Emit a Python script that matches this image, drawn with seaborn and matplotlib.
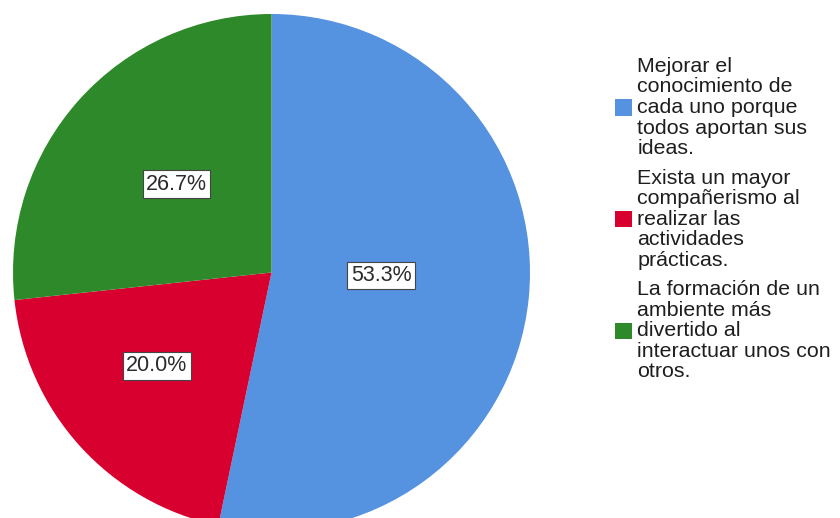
import numpy as np
import matplotlib
matplotlib.use("Agg")
import matplotlib.pyplot as plt
import seaborn as sns

# Response categories and their shares (%)
categories = [
    "Mejorar el\nconocimiento de\ncada uno porque\ntodos aportan sus\nideas.",
    "Exista un mayor\ncompañerismo al\nrealizar las\nactividades\nprácticas.",
    "La formación de un\nambiente más\ndivertido al\ninteractuar unos con\notros.",
]
percentages = [53.3, 20.0, 26.7]
colors = ["#5592E0", "#D8002F", "#2E892A"]

# label placement: fraction of radius, and angle nudge (deg) from the wedge bisector
label_radius = [0.424, 0.571, 0.502]
label_nudge = [-4.4, 3.0, 1.0]

sns.set_theme(style="white")
plt.rcParams["font.family"] = ["Liberation Sans", "DejaVu Sans"]

W, H = 840, 518
fig = plt.figure(figsize=(W / 100, H / 100), dpi=100)
fig.patch.set_facecolor("white")

# pie centre (271.5, 272.5) px, radius 258.5 px
cx, cy, r = 271.5, 272.5, 258.5
ax = fig.add_axes([(cx - r) / W, (H - cy - r) / H, 2 * r / W, 2 * r / H])
ax.axis("off")

wedges, _ = ax.pie(
    percentages,
    colors=colors,
    startangle=90,
    counterclock=False,
    radius=1,
    center=(0, 0),
    wedgeprops=dict(linewidth=0),
    frame=False,
)
ax.set_xlim(-1, 1)
ax.set_ylim(-1, 1)

# percentage labels, angles measured clockwise from 12 o'clock
cum = np.cumsum([0] + percentages)
for i, p in enumerate(percentages):
    mid = np.deg2rad((cum[i] + cum[i + 1]) / 2 / 100 * 360 + label_nudge[i])
    x = label_radius[i] * np.sin(mid)
    y = label_radius[i] * np.cos(mid)
    ax.text(x, y, f"{p:.1f}%", ha="center", va="center", fontsize=15.5,
            color="#2b2b2b",
            bbox=dict(boxstyle="square,pad=0.16", facecolor="white",
                      edgecolor="#444444", linewidth=0.8))

leg = fig.legend(
    wedges, categories,
    loc="upper left",
    bbox_to_anchor=(615 / W, 1 - 57 / H),
    frameon=False,
    fontsize=15.4,
    handlelength=0.8,
    handleheight=0.8,
    handletextpad=0.25,
    labelspacing=0.5,
    borderpad=0,
    borderaxespad=0,
)
for t in leg.get_texts():
    t.set_color("#1e1e1e")
    t.set_linespacing(1.1)

fig.savefig("out.png", dpi=100, facecolor="white")
